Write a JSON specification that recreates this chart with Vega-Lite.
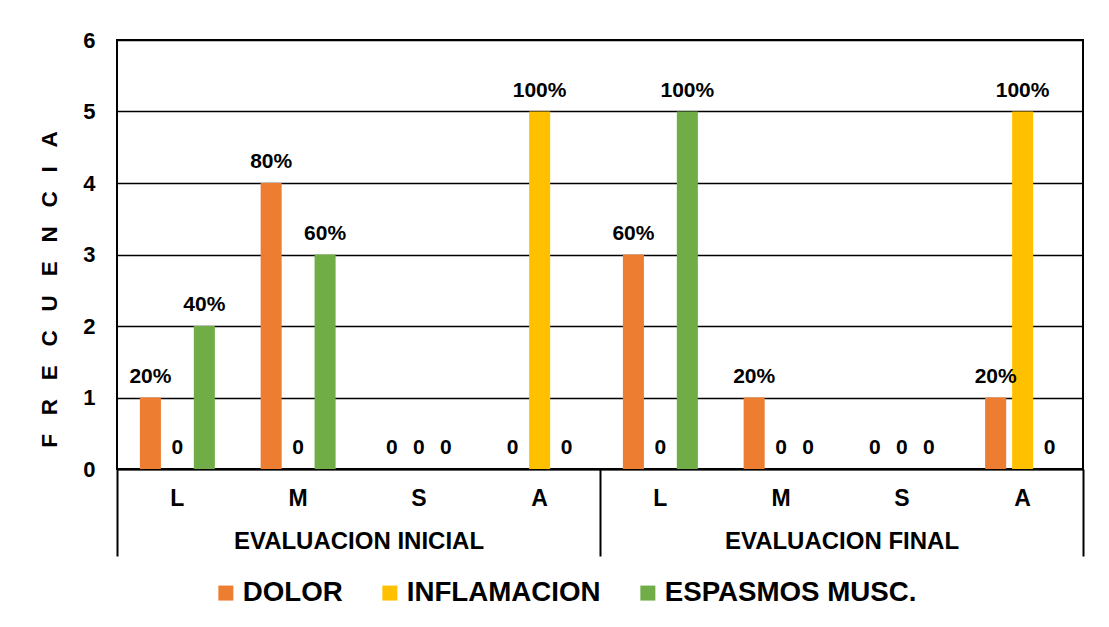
{
  "$schema": "https://vega.github.io/schema/vega-lite/v6.json",
  "width": 966,
  "height": 429,
  "autosize": {"type": "none"},
  "padding": {"left": 117, "top": 40, "right": 26, "bottom": 158},
  "background": "white",
  "config": {
    "font": "Liberation Sans",
    "view": {"stroke": "#000000", "strokeWidth": 2},
    "axis": {"labelFont": "Liberation Sans", "labelFontWeight": "bold", "labelColor": "#000000", "titleFont": "Liberation Sans", "titleColor": "#000000"}
  },
  "data": {
    "values": [
      {"grupo": "EVALUACION INICIAL", "cat": "INICIAL|L", "serie": "DOLOR", "frecuencia": 1, "pct": 0.2},
      {"grupo": "EVALUACION INICIAL", "cat": "INICIAL|L", "serie": "INFLAMACION", "frecuencia": 0, "pct": 0},
      {"grupo": "EVALUACION INICIAL", "cat": "INICIAL|L", "serie": "ESPASMOS MUSC.", "frecuencia": 2, "pct": 0.4},
      {"grupo": "EVALUACION INICIAL", "cat": "INICIAL|M", "serie": "DOLOR", "frecuencia": 4, "pct": 0.8},
      {"grupo": "EVALUACION INICIAL", "cat": "INICIAL|M", "serie": "INFLAMACION", "frecuencia": 0, "pct": 0},
      {"grupo": "EVALUACION INICIAL", "cat": "INICIAL|M", "serie": "ESPASMOS MUSC.", "frecuencia": 3, "pct": 0.6},
      {"grupo": "EVALUACION INICIAL", "cat": "INICIAL|S", "serie": "DOLOR", "frecuencia": 0, "pct": 0},
      {"grupo": "EVALUACION INICIAL", "cat": "INICIAL|S", "serie": "INFLAMACION", "frecuencia": 0, "pct": 0},
      {"grupo": "EVALUACION INICIAL", "cat": "INICIAL|S", "serie": "ESPASMOS MUSC.", "frecuencia": 0, "pct": 0},
      {"grupo": "EVALUACION INICIAL", "cat": "INICIAL|A", "serie": "DOLOR", "frecuencia": 0, "pct": 0},
      {"grupo": "EVALUACION INICIAL", "cat": "INICIAL|A", "serie": "INFLAMACION", "frecuencia": 5, "pct": 1},
      {"grupo": "EVALUACION INICIAL", "cat": "INICIAL|A", "serie": "ESPASMOS MUSC.", "frecuencia": 0, "pct": 0},
      {"grupo": "EVALUACION FINAL", "cat": "FINAL|L", "serie": "DOLOR", "frecuencia": 3, "pct": 0.6},
      {"grupo": "EVALUACION FINAL", "cat": "FINAL|L", "serie": "INFLAMACION", "frecuencia": 0, "pct": 0},
      {"grupo": "EVALUACION FINAL", "cat": "FINAL|L", "serie": "ESPASMOS MUSC.", "frecuencia": 5, "pct": 1},
      {"grupo": "EVALUACION FINAL", "cat": "FINAL|M", "serie": "DOLOR", "frecuencia": 1, "pct": 0.2},
      {"grupo": "EVALUACION FINAL", "cat": "FINAL|M", "serie": "INFLAMACION", "frecuencia": 0, "pct": 0},
      {"grupo": "EVALUACION FINAL", "cat": "FINAL|M", "serie": "ESPASMOS MUSC.", "frecuencia": 0, "pct": 0},
      {"grupo": "EVALUACION FINAL", "cat": "FINAL|S", "serie": "DOLOR", "frecuencia": 0, "pct": 0},
      {"grupo": "EVALUACION FINAL", "cat": "FINAL|S", "serie": "INFLAMACION", "frecuencia": 0, "pct": 0},
      {"grupo": "EVALUACION FINAL", "cat": "FINAL|S", "serie": "ESPASMOS MUSC.", "frecuencia": 0, "pct": 0},
      {"grupo": "EVALUACION FINAL", "cat": "FINAL|A", "serie": "DOLOR", "frecuencia": 1, "pct": 0.2},
      {"grupo": "EVALUACION FINAL", "cat": "FINAL|A", "serie": "INFLAMACION", "frecuencia": 5, "pct": 1},
      {"grupo": "EVALUACION FINAL", "cat": "FINAL|A", "serie": "ESPASMOS MUSC.", "frecuencia": 0, "pct": 0}
    ]
  },
  "layer": [
    {
      "encoding": {
        "x": {
          "field": "cat",
          "type": "nominal",
          "scale": {
            "domain": ["INICIAL|L", "INICIAL|M", "INICIAL|S", "INICIAL|A", "FINAL|L", "FINAL|M", "FINAL|S", "FINAL|A"],
            "paddingInner": 0.33,
            "paddingOuter": 0.165
          },
          "axis": {
            "orient": "bottom",
            "title": null,
            "labelExpr": "split(datum.label, '|')[1]",
            "labelAngle": 0,
            "labelFontSize": 23,
            "labelPadding": 18,
            "ticks": false,
            "domain": true,
            "domainColor": "#000000",
            "domainWidth": 2,
            "grid": false
          }
        },
        "xOffset": {
          "field": "serie",
          "type": "nominal",
          "scale": {"domain": ["DOLOR", "INFLAMACION", "ESPASMOS MUSC."], "paddingInner": 0.22, "paddingOuter": 0.11}
        },
        "y": {
          "field": "frecuencia",
          "type": "quantitative",
          "scale": {"domain": [0, 6], "nice": false},
          "axis": {
            "values": [0, 1, 2, 3, 4, 5, 6],
            "title": "F\u00a0\u00a0\u00a0R\u00a0\u00a0\u00a0E\u00a0\u00a0\u00a0C\u00a0\u00a0\u00a0U\u00a0\u00a0\u00a0E\u00a0\u00a0\u00a0N\u00a0\u00a0\u00a0C\u00a0\u00a0\u00a0I\u00a0\u00a0\u00a0A",
            "titleFontSize": 22.5,
            "titleFontWeight": "bold",
            "titleX": -68,
            "titleY": 249,
            "titleAngle": 270,
            "titleAlign": "center",
            "titleBaseline": "middle",
            "labelFontSize": 22,
            "labelPadding": 22,
            "ticks": false,
            "domain": false,
            "grid": true,
            "gridColor": "#000000",
            "gridWidth": 1.3
          }
        }
      },
      "layer": [
        {
          "mark": {"type": "bar"},
          "encoding": {
            "color": {
              "field": "serie",
              "type": "nominal",
              "scale": {"domain": ["DOLOR", "INFLAMACION", "ESPASMOS MUSC."], "range": ["#ED7D31", "#FFC000", "#70AD47"]},
              "legend": {
                "title": null,
                "orient": "none",
                "direction": "horizontal",
                "legendX": 95,
                "legendY": 539,
                "symbolType": "square",
                "symbolSize": 225,
                "symbolStrokeWidth": 0,
                "symbolOpacity": 1,
                "labelFont": "Liberation Sans",
                "labelFontSize": 27.7,
                "labelFontWeight": "bold",
                "labelColor": "#000000",
                "labelOffset": 3,
                "columnPadding": 33,
                "labelLimit": 400
              }
            }
          }
        },
        {
          "mark": {"type": "text", "baseline": "alphabetic", "dy": -15, "font": "Liberation Sans", "fontSize": 21, "fontWeight": "bold", "color": "#000000"},
          "encoding": {
            "text": {
              "condition": {"test": "datum.pct == 0", "value": "0"},
              "field": "pct",
              "type": "quantitative",
              "format": ".0%"
            }
          }
        }
      ]
    },
    {
      "mark": {"type": "text", "opacity": 0},
      "encoding": {
        "x": {
          "field": "grupo",
          "type": "nominal",
          "scale": {"domain": ["EVALUACION INICIAL", "EVALUACION FINAL"], "paddingInner": 0, "paddingOuter": 0},
          "axis": {
            "orient": "bottom",
            "title": null,
            "labelAngle": 0,
            "labelFontSize": 24,
            "labelPadding": -27,
            "labelLimit": 600,
            "tickBand": "extent",
            "ticks": true,
            "tickSize": 87,
            "tickWidth": 2,
            "tickColor": "#000000",
            "domain": false,
            "grid": false
          }
        }
      }
    }
  ],
  "resolve": {"scale": {"x": "independent"}, "axis": {"x": "independent"}}
}
